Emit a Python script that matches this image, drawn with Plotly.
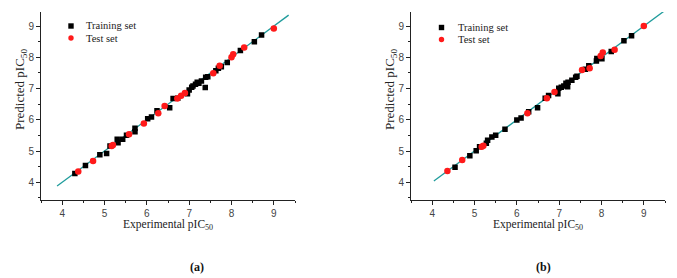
import plotly.graph_objects as go

# ---------------- Data ----------------
# Panel (a)
train_a_x = [4.30, 4.55, 4.89, 5.05, 5.13, 5.30, 5.32, 5.43, 5.52, 5.72, 5.72, 6.02, 6.11, 6.24,
             6.54, 6.62, 6.73, 6.96, 7.00, 7.06, 7.09, 7.15, 7.19, 7.23, 7.29, 7.38, 7.39, 7.44,
             7.63, 7.69, 7.76, 7.90, 8.21, 8.54, 8.71]
train_a_y = [4.28, 4.54, 4.88, 4.92, 5.16, 5.38, 5.27, 5.38, 5.51, 5.62, 5.73, 6.03, 6.09, 6.29,
             6.39, 6.68, 6.69, 6.83, 6.95, 7.04, 7.08, 7.14, 7.20, 7.17, 7.24, 7.03, 7.36, 7.38,
             7.57, 7.65, 7.70, 7.83, 8.22, 8.50, 8.71]
test_a_x = [4.38, 4.73, 5.17, 5.20, 5.58, 5.93, 6.27, 6.42, 6.72, 6.81, 6.90, 7.57, 7.72, 8.00,
            8.04, 8.30, 9.00]
test_a_y = [4.35, 4.68, 5.16, 5.19, 5.54, 5.88, 6.21, 6.44, 6.68, 6.77, 6.86, 7.49, 7.73, 8.00,
            8.10, 8.31, 8.92]
fit_a_x = [3.88, 9.35]
fit_a_y = [3.88, 9.35]

# Panel (b)
train_b_x = [4.54, 4.89, 5.04, 5.12, 5.28, 5.31, 5.41, 5.50, 5.72, 6.00, 6.10, 6.28, 6.49, 6.67,
             6.75, 6.97, 6.99, 7.05, 7.11, 7.16, 7.20, 7.21, 7.30, 7.39, 7.42, 7.62, 7.70, 7.88,
             7.89, 8.01, 8.23, 8.53, 8.71]
train_b_y = [4.48, 4.85, 5.01, 5.14, 5.25, 5.35, 5.45, 5.51, 5.70, 5.99, 6.06, 6.26, 6.39, 6.69,
             6.78, 6.83, 7.01, 7.04, 7.08, 7.17, 7.06, 7.20, 7.27, 7.36, 7.39, 7.62, 7.73, 7.88,
             7.96, 7.95, 8.19, 8.53, 8.69]
test_b_x = [4.36, 4.71, 5.17, 5.21, 6.25, 6.71, 6.89, 7.54, 7.72, 7.98, 8.03, 8.31, 9.00]
test_b_y = [4.36, 4.71, 5.14, 5.17, 6.21, 6.69, 6.89, 7.59, 7.65, 8.04, 8.15, 8.24, 9.00]
fit_b_x = [4.04, 9.47]
fit_b_y = [4.04, 9.47]

tick_vals = [4, 5, 6, 7, 8, 9]
tick_text = ["4", "5", "6", "7", "8", "9"]
panel_labels = ["(a)", "(b)"]
legend_names = ["Training set", "Test set"]

# ---------------- Styles ----------------
SERIF = "Liberation Serif"
SANS = "Liberation Sans"
LINE_COLOR = "#1f9c9c"
TRAIN_COLOR = "black"
TEST_COLOR = "#ff1a1a"
W, H = 677, 278

fig = go.Figure()

def add_panel(xs_tr, ys_tr, xs_te, ys_te, fx, fy, xa, ya):
    fig.add_trace(go.Scatter(x=fx, y=fy, mode="lines", line=dict(color=LINE_COLOR, width=1.3),
                             showlegend=False, xaxis=xa, yaxis=ya, hoverinfo="skip"))
    fig.add_trace(go.Scatter(x=xs_tr, y=ys_tr, mode="markers", name=legend_names[0],
                             marker=dict(symbol="square", size=5.5, color=TRAIN_COLOR),
                             xaxis=xa, yaxis=ya, showlegend=False))
    fig.add_trace(go.Scatter(x=xs_te, y=ys_te, mode="markers", name=legend_names[1],
                             marker=dict(symbol="circle", size=6.5, color=TEST_COLOR),
                             xaxis=xa, yaxis=ya, showlegend=False))

add_panel(train_a_x, train_a_y, test_a_x, test_a_y, fit_a_x, fit_a_y, "x", "y")
add_panel(train_b_x, train_b_y, test_b_x, test_b_y, fit_b_x, fit_b_y, "x2", "y2")

ydom = [(H - 199.5) / H, (H - 12) / H]

def axis_style(domain, rng, anchor):
    return dict(domain=domain, range=rng, anchor=anchor, showgrid=False, zeroline=False,
                showline=True, linecolor="#222", linewidth=1, mirror=False,
                ticks="outside", ticklen=4, tickwidth=1, tickcolor="#222",
                tickvals=tick_vals, ticktext=tick_text,
                tickfont=dict(family=SANS, size=10, color="#444"),
                minor=dict(dtick=0.5, tick0=3.5, ticks="outside", ticklen=2.5,
                           tickcolor="#222", tickwidth=1, showgrid=False))

fig.update_layout(
    width=W, height=H, margin=dict(l=0, r=0, t=0, b=0),
    paper_bgcolor="white", plot_bgcolor="white", showlegend=False,
    xaxis=axis_style([41 / W, 295 / W], [3.5, 9.5], "y"),
    yaxis=axis_style(ydom, [3.45, 9.45], "x"),
    xaxis2=axis_style([411 / W, 665 / W], [3.5, 9.5], "y2"),
    yaxis2=axis_style(ydom, [3.45, 9.45], "x2"),
)

def px(x):
    return x / W

def py(y):
    return (H - y) / H

annots = []
shapes = []
for cx in [168, 538]:
    annots.append(dict(text="Experimental pIC<sub>50</sub>", x=px(cx), y=py(225),
                       xref="paper", yref="paper", showarrow=False,
                       xanchor="center", yanchor="middle",
                       font=dict(family=SERIF, size=11.5, color="#222")))
for lx in [20, 390]:
    annots.append(dict(text="Predicted pIC<sub>50</sub>", x=px(lx), y=py(90),
                       xref="paper", yref="paper", showarrow=False, textangle=-90,
                       xanchor="center", yanchor="middle",
                       font=dict(family=SERIF, size=13, color="#222")))
for lab, lx in zip(panel_labels, [197, 543]):
    annots.append(dict(text="<b>" + lab + "</b>", x=px(lx), y=py(267),
                       xref="paper", yref="paper", showarrow=False,
                       xanchor="center", yanchor="middle",
                       font=dict(family=SERIF, size=12, color="#111")))

# legend keys (manual, to match the compact row spacing)
for mx, tx, y0 in [(71, 84, 26), (441.5, 456, 27.5)]:
    for i, (name, col) in enumerate(zip(legend_names, [TRAIN_COLOR, TEST_COLOR])):
        yy = y0 + i * 12
        shapes.append(dict(type="rect" if i == 0 else "circle", xref="paper", yref="paper",
                           x0=px(mx - 2.7), x1=px(mx + 2.7), y0=py(yy + 2.7), y1=py(yy - 2.7),
                           fillcolor=col, line=dict(width=0)))
        annots.append(dict(text=name, x=px(tx), y=py(yy), xref="paper", yref="paper",
                           showarrow=False, xanchor="left", yanchor="middle",
                           font=dict(family=SERIF, size=10.5, color="#222")))

fig.update_layout(annotations=annots, shapes=shapes)

fig.write_html("out.html", config={"displayModeBar": False},
               post_script="document.body.style.margin='0px';")
